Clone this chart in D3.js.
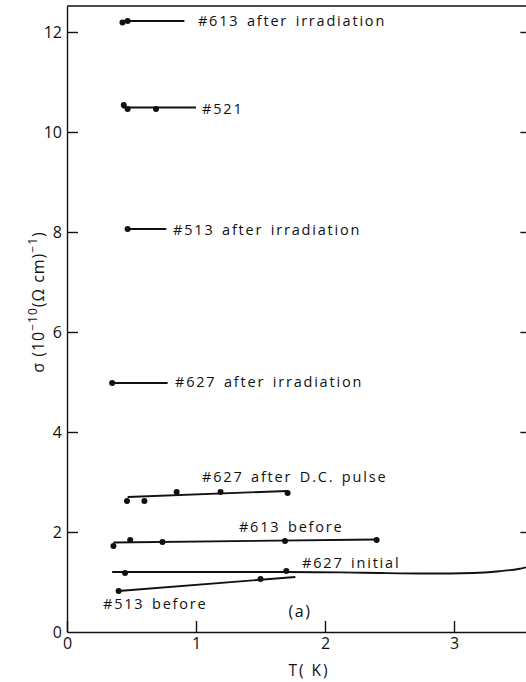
<!DOCTYPE html>
<html>
<head>
<meta charset="utf-8">
<script src="https://cdn.jsdelivr.net/npm/d3@7"></script>
<style>
  body { margin: 0; background: #fff; }
  svg { display: block; }
  text { font-family: "Open Sans", "DejaVu Sans", sans-serif; fill: #111; }
  .axis path, .axis line { stroke: #111; stroke-width: 1.4; }
  .axis text { font-size: 16px; fill: #111; }
</style>
</head>
<body>
<div id="graph"></div>
<script>
'use strict';

// tick values
const xTicks = [0, 1, 2, 3];
const yTicks = [0, 2, 4, 6, 8, 10, 12];

// measured points [T (K), sigma]
const pts613After = [[0.43, 12.19], [0.47, 12.22]];
const pts521 = [[0.44, 10.54], [0.47, 10.46], [0.69, 10.46]];
const pts513After = [[0.47, 8.06]];
const pts627After = [[0.35, 4.98]];
const pts627Pulse = [[0.465, 2.62], [0.60, 2.62], [0.85, 2.80], [1.19, 2.80], [1.71, 2.78]];
const pts613Before = [[0.36, 1.72], [0.49, 1.84], [0.74, 1.80], [1.69, 1.82], [2.40, 1.84]];
const pts627Initial = [[0.45, 1.18], [1.70, 1.22]];
const pts513Before = [[0.40, 0.82], [1.50, 1.06]];

// drawn lines / curves
const fit613After = [[0.43, 12.22], [0.91, 12.22]];
const fit521 = [[0.43, 10.49], [1.0, 10.49]];
const fit513After = [[0.47, 8.06], [0.77, 8.06]];
const fit627After = [[0.35, 4.98], [0.78, 4.98]];
const fit627Pulse = [[0.47, 2.70], [1.71, 2.82]];
const fit613Before = [[0.36, 1.79], [2.40, 1.85]];
const fit627Initial = [[0.35, 1.20], [1.0, 1.20], [1.7, 1.20], [2.3, 1.185], [2.8, 1.17], [3.15, 1.18], [3.35, 1.215], [3.5, 1.26], [3.6, 1.32]];
const fit513Before = [[0.40, 0.82], [1.77, 1.10]];

// annotations [text, T, sigma]
const notes = [
  ["#613 after irradiation", 1.015, 12.12],
  ["#521", 1.047, 10.36],
  ["#513 after irradiation", 0.822, 7.94],
  ["#627 after irradiation", 0.837, 4.90],
  ["#627 after D.C. pulse", 1.047, 3.0],
  ["#613 before", 1.333, 2.0],
  ["#627 initial", 1.822, 1.28],
  ["#513 before", 0.279, 0.46]
];

const W = 526, H = 682;
const svg = d3.select("#graph").append("svg")
    .attr("width", W).attr("height", H);

const x = d3.scaleLinear().domain([0, 3.6]).range([67, 531.4]);
const y = d3.scaleLinear().domain([0, 12.52]).range([632, 6]);

// frame
svg.append("line")
    .attr("x1", x(0)).attr("x2", x(3.6))
    .attr("y1", y(12.52)).attr("y2", y(12.52))
    .attr("stroke", "#111").attr("stroke-width", 1.4);

svg.append("g")
    .attr("class", "axis")
    .attr("transform", `translate(0,${y(0)})`)
    .call(d3.axisBottom(x).tickValues(xTicks).tickFormat(d3.format("d"))
        .tickSize(-11).tickSizeOuter(0).tickPadding(6));

svg.append("g")
    .attr("class", "axis")
    .attr("transform", `translate(${x(0)},0)`)
    .call(d3.axisLeft(y).tickValues(yTicks).tickFormat(d3.format("d"))
        .tickSize(-11).tickSizeOuter(0).tickPadding(5))
    .call(g => g.select(".tick:first-of-type line").remove());

svg.append("g")
    .attr("class", "axis")
    .attr("transform", `translate(${x(3.6)},0)`)
    .call(d3.axisLeft(y).tickValues(yTicks.slice(1)).tickFormat("")
        .tickSize(11).tickSizeOuter(0));

// lines
const line = d3.line().x(d => x(d[0])).y(d => y(d[1]));
const curve = d3.line().x(d => x(d[0])).y(d => y(d[1])).curve(d3.curveMonotoneX);

const fits = [fit613After, fit521, fit513After, fit627After, fit627Pulse, fit613Before, fit513Before];
svg.append("g").selectAll("path")
    .data(fits)
    .join("path")
    .attr("d", line)
    .attr("fill", "none").attr("stroke", "#111").attr("stroke-width", 1.8);

svg.append("path")
    .datum(fit627Initial)
    .attr("d", curve)
    .attr("fill", "none").attr("stroke", "#111").attr("stroke-width", 1.8);

// points
const allPts = [].concat(pts613After, pts521, pts513After, pts627After,
    pts627Pulse, pts613Before, pts627Initial, pts513Before);
svg.append("g").selectAll("circle")
    .data(allPts)
    .join("circle")
    .attr("cx", d => x(d[0]))
    .attr("cy", d => y(d[1]))
    .attr("r", 3)
    .attr("fill", "#111");

// annotations
svg.append("g").selectAll("text")
    .data(notes)
    .join("text")
    .attr("x", d => x(d[1]))
    .attr("y", d => y(d[2]))
    .attr("font-size", 14.5)
    .attr("letter-spacing", 1.8)
    .attr("word-spacing", 2)
    .text(d => d[0]);

svg.append("text")
    .attr("x", x(1.806)).attr("y", y(0.30))
    .attr("text-anchor", "middle")
    .attr("font-size", 16)
    .attr("letter-spacing", 1.5)
    .text("(a)");

// axis titles
svg.append("text")
    .attr("x", 309).attr("y", 676)
    .attr("text-anchor", "middle")
    .attr("font-size", 15.5)
    .attr("letter-spacing", 2)
    .text("T( K)");

const yl = svg.append("text")
    .attr("transform", "translate(44,302) rotate(-90)")
    .attr("text-anchor", "middle")
    .attr("font-size", 16)
    .attr("letter-spacing", 1);
yl.append("tspan").text("σ (10");
yl.append("tspan").attr("dy", -7).attr("font-size", 12).text("−10");
yl.append("tspan").attr("dy", 7).text("(Ω cm)");
yl.append("tspan").attr("dy", -7).attr("font-size", 12).text("−1");
yl.append("tspan").attr("dy", 7).text(")");
</script>
</body>
</html>
